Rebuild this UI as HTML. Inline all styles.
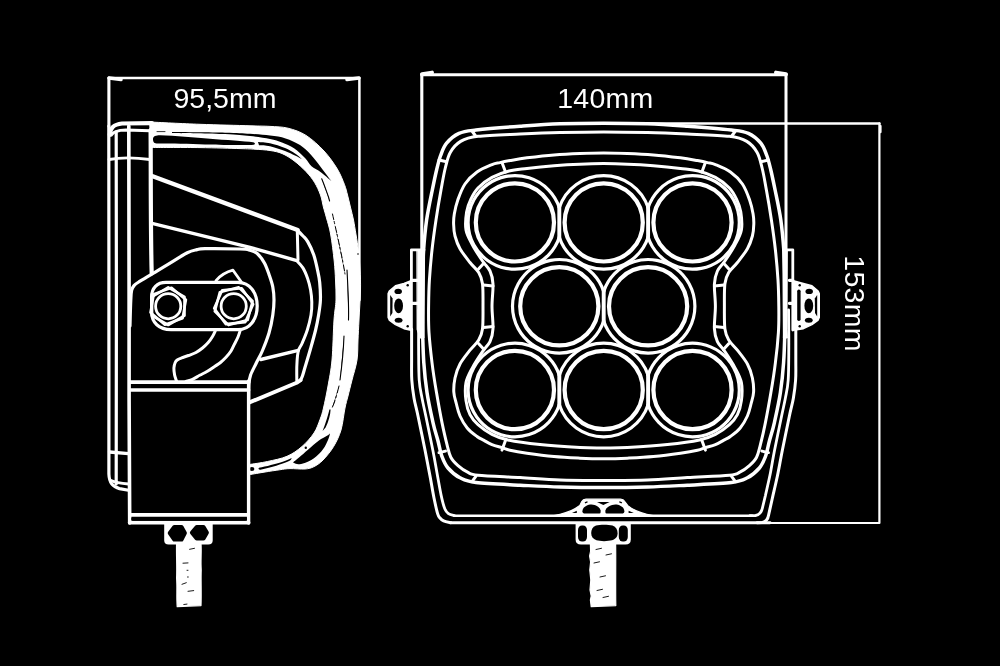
<!DOCTYPE html>
<html><head><meta charset="utf-8"><title>Dimensions</title>
<style>
html,body{margin:0;padding:0;background:#000;}
body{width:1000px;height:666px;overflow:hidden;position:relative;font-family:"Liberation Sans",sans-serif;}
svg{position:absolute;left:0;top:0;display:block;will-change:transform;transform:translateZ(0)}
svg path,svg circle,svg rect,svg line,svg polygon{fill:none;stroke:#fff;stroke-linecap:round;stroke-linejoin:round}
svg .f{fill:#fff;stroke:#fff}
svg .k{fill:#000;stroke:none}
svg .kk{fill:#000;stroke:#000}
svg text{fill:#fff;stroke:none;font-family:"Liberation Sans",sans-serif;}
</style></head><body>
<svg width="1000" height="666" viewBox="0 0 1000 666">
<rect class="k" x="0" y="0" width="1000" height="666"/>
<g id="side-view">
<path d="M108.9,126 V78.1" stroke-width="3.1" />
<path d="M108.9,78.1 H359.4 V300" stroke-width="2.5" />
<path d="M109,78 l12,1.5" stroke-width="3.5" />
<path d="M359,78 l-12,1.5" stroke-width="3.5" />
<text x="173.5" y="107.9" font-size="28.5">95,5mm</text>
<path class="f" d="M150.0,122.0 C158.3,122.4 183.3,123.7 200.0,124.3 C216.7,124.9 238.3,125.4 250.0,125.8 C261.7,126.2 263.7,126.0 270.0,126.4 C276.3,126.8 282.0,126.7 288.0,128.2 C294.0,129.7 300.0,131.6 306.0,135.4 C312.0,139.2 318.8,145.4 324.0,151.0 C329.2,156.6 333.9,163.4 337.3,169.0 C340.7,174.6 342.8,180.4 344.5,184.7 C346.2,189.0 346.5,191.3 347.5,195.0 C348.5,198.7 349.4,202.8 350.4,207.0 C351.4,211.2 352.6,215.5 353.5,220.0 C354.4,224.5 355.0,228.7 355.9,234.0 C356.8,239.3 357.9,246.0 358.6,252.0 C359.3,258.0 359.7,263.7 360.0,270.0 C360.3,276.3 360.7,281.7 360.5,290.0 C360.3,298.3 359.4,311.7 359.0,320.0 C358.6,328.3 358.3,333.3 358.0,340.0 C357.7,346.7 358.0,353.3 357.0,360.0 C356.0,366.7 353.5,374.0 352.0,380.0 C350.5,386.0 349.2,391.3 348.0,396.0 C346.8,400.7 346.2,402.3 345.0,408.0 C343.8,413.7 342.9,423.6 341.0,430.0 C339.1,436.4 336.6,441.5 333.6,446.5 C330.6,451.5 326.3,456.6 323.0,460.0 C319.7,463.4 317.0,465.1 314.0,466.6 C311.0,468.1 309.0,468.7 305.0,469.0 C301.0,469.3 294.2,468.5 290.0,468.6 C285.8,468.7 283.7,469.2 279.5,469.8 C275.3,470.4 270.0,471.2 265.0,472.0 C260.0,472.8 252.1,474.2 249.5,474.6 L249.5,464.5 C252.5,464.0 261.2,462.9 267.5,461.5 C273.8,460.1 281.2,458.8 287.0,456.3 C292.8,453.8 297.5,450.4 302.0,446.5 C306.5,442.6 311.0,437.5 314.0,433.0 C317.0,428.5 318.4,423.7 320.0,419.5 C321.6,415.3 322.2,413.6 323.5,408.0 C324.8,402.4 326.6,394.0 328.0,386.0 C329.4,378.0 331.0,371.0 332.0,360.0 C333.0,349.0 333.3,330.0 334.0,320.0 C334.7,310.0 335.8,306.7 336.0,300.0 C336.2,293.3 335.8,286.5 335.5,280.0 C335.2,273.5 335.0,268.7 334.2,261.0 C333.4,253.3 331.9,241.2 330.6,234.0 C329.3,226.8 327.7,222.5 326.5,218.0 C325.3,213.5 324.4,210.8 323.4,207.0 C322.4,203.2 322.0,199.1 320.5,195.0 C319.0,190.9 316.9,186.2 314.5,182.3 C312.1,178.4 309.4,175.1 306.0,171.5 C302.6,167.9 298.0,163.7 294.0,160.7 C290.0,157.7 286.0,155.2 282.0,153.5 C278.0,151.8 274.5,151.2 270.0,150.5 C265.5,149.8 260.0,149.5 255.0,149.2 C250.0,148.9 249.2,148.9 240.0,148.6 C230.8,148.3 214.7,147.8 200.0,147.6 C185.3,147.4 160.0,147.5 152.0,147.5 L150,130 Z" stroke-width="1"/>
<path class="k" d="M153,139 C153,136 156,135.2 160,135.2 C175,135.4 195,137.5 210,138.8 C225,140 245,141.2 253,142.3 C256,143 255.5,145 252,145 C235,145.2 215,145 205,144.6 C190,143.8 170,143.8 158,143.6 C154,143.5 153,142 153,139 Z"/>
<path class="kk" stroke-width="0.8" d="M157,131.6 h8"/>
<path class="k" d="M172.0,132.1 C180.8,132.2 212.0,132.4 225.0,132.7 C238.0,133.0 242.5,133.3 250.0,133.8 C257.5,134.3 264.1,134.8 270.0,135.6 C275.9,136.4 280.6,136.8 285.6,138.4 C290.6,140.0 295.8,142.3 300.0,145.0 C304.2,147.7 307.5,151.1 310.9,154.7 C314.3,158.3 317.7,163.1 320.5,166.7 C323.3,170.3 325.9,173.9 327.7,176.3 C329.5,178.7 330.7,180.2 331.3,181.0 L331.3,181.0 C329.5,179.5 323.8,174.4 320.5,172.0 C317.2,169.6 314.0,168.6 311.5,166.3 C309.0,164.1 308.4,161.5 305.5,158.5 C302.6,155.5 297.9,150.9 294.0,148.2 C290.1,145.5 286.0,143.9 282.0,142.4 C278.0,140.9 275.3,140.0 270.0,138.9 C264.7,137.8 257.5,136.8 250.0,136.0 C242.5,135.2 238.0,134.5 225.0,134.0 C212.0,133.5 180.8,133.1 172.0,132.9 Z"/>
<path class="k" d="M258.0,142.0 C260.0,142.2 265.5,142.3 270.0,143.3 C274.5,144.3 280.8,146.3 285.0,148.0 C289.2,149.7 292.1,151.6 295.0,153.5 C297.9,155.4 301.2,158.5 302.5,159.5 L302.5,159.5 C301.2,158.8 297.9,157.0 295.0,155.6 C292.1,154.2 289.2,152.6 285.0,151.0 C280.8,149.4 274.3,147.3 270.0,146.3 C265.7,145.3 260.8,145.4 259.0,145.2 Z"/>
<path class="kk" stroke-width="1.1" d="M321.7,178.7 C324,184 326,190 328.5,197 L329.6,201"/>
<path class="kk" stroke-width="1" stroke-dasharray="6 2 2 3" d="M332.5,214 C336,230 342,255 345,274"/>
<path class="kk" stroke-width="1.1" d="M347,270 C348,290 349,305 348.5,320"/>
<path class="kk" stroke-width="1.1" d="M344,336 C343.5,350 342,365 340,380"/>
<path class="kk" stroke-width="1" stroke-dasharray="7 3 2 3" d="M339,386 C337,394 335,402 332,408"/>
<circle class="k" cx="358" cy="254" r="0.8"/>
<path class="k" d="M330.6,409.5 C330.4,415 328.6,421.5 325.6,427.5 L322.6,431 C324.6,426 327.4,418 329.4,409.5 Z"/>
<path class="k" d="M329.6,433.4 C329.2,433.8 329.2,434.4 327.4,435.6 C325.6,436.8 321.8,438.4 318.6,440.8 C315.4,443.2 311.3,447.0 308.0,449.8 C304.7,452.6 301.5,455.5 299.0,457.6 C296.5,459.7 294.0,461.6 293.0,462.4 L293.0,462.6 C293.7,462.8 295.3,463.8 297.0,464.0 C298.7,464.2 300.2,464.6 303.0,463.6 C305.8,462.7 310.7,460.7 314.0,458.3 C317.3,455.9 320.7,452.4 323.0,449.3 C325.3,446.2 326.9,442.5 328.0,440.0 C329.1,437.5 329.5,435.4 329.8,434.5 Z"/>
<circle class="k" cx="305.8" cy="447.8" r="1.2"/>
<path class="k" d="M259,467.8 C266,466.4 276,464 282,462 C286,460.6 289,459.4 291.6,458 C291.6,459.6 290.4,460.6 288,461.6 C282,464.2 272,467.4 260.4,469.8 C258.6,470 258,468.2 259,467.8 Z"/>
<ellipse class="k" cx="251.9" cy="469.1" rx="2.5" ry="2"/>
<path d="M109.8,135 C110,128 113.5,124.4 122,123.5 L152,123.2" stroke-width="4.2" />
<path d="M111.5,135 C113,131.4 118,130.2 126,130 L150,130.8" stroke-width="3" />
<path d="M108.8,126 L108.9,260 L108.9,474 C109.2,483 112.5,487 119.5,488.6 L128.5,490.3" stroke-width="3.2" />
<path d="M116.2,132 L116.4,300 L116.2,484" stroke-width="3.2" />
<path d="M128.8,126 L129.1,300 L129.1,400 L129.7,523" stroke-width="3.6" />
<path d="M150.6,130 C150.9,170 150.5,230 151.7,273.5" stroke-width="4.2" />
<path d="M109,159.5 C120,157.5 135,157.5 150,159.5" stroke-width="2.8" />
<path d="M109.5,452 L128.5,453.6" stroke-width="3.4" />
<path d="M111,480.5 C116,482.8 122,483.4 128.5,484" stroke-width="3" />
<path d="M152,176 L297.6,230" stroke-width="4.4" />
<path d="M152,223.4 L250,247.4 L296,260.3" stroke-width="3.4" />
<path d="M297.3,231 L298,260" stroke-width="3" />
<path d="M297.6,230.5 C298.5,231.4 301.3,234.2 303.0,236.0 C304.7,237.8 305.9,238.5 307.7,241.6 C309.5,244.7 312.1,250.1 313.7,254.7 C315.3,259.3 316.3,264.4 317.3,269.0 C318.3,273.6 319.2,277.1 319.7,282.3 C320.2,287.5 320.6,294.6 320.4,300.0 C320.2,305.4 319.4,310.0 318.6,315.0 C317.8,320.0 317.0,324.2 315.6,330.0 C314.2,335.8 312.0,343.5 310.3,349.5 C308.6,355.5 306.7,361.7 305.4,366.0 C304.1,370.3 303.4,373.1 302.6,375.5 C301.8,377.9 300.8,379.6 300.4,380.4" stroke-width="3.2" />
<path d="M296.5,260.5 C297.6,261.7 301.0,264.9 302.9,267.9 C304.8,270.9 306.4,275.0 307.7,278.7 C309.0,282.4 309.9,286.1 310.6,290.0 C311.3,293.9 311.7,297.8 311.8,302.0 C311.9,306.2 311.8,310.3 311.0,315.0 C310.2,319.7 308.8,325.2 307.3,330.0 C305.8,334.8 303.5,340.0 302.0,343.5 C300.5,347.0 299.2,347.5 298.3,351.0 C297.4,354.5 297.1,359.6 296.9,364.5 C296.6,369.4 296.8,377.8 296.8,380.5" stroke-width="3" />
<path d="M260.8,359.5 L298.3,350.4" stroke-width="3.4" />
<path d="M249.5,402.4 L296.6,382.8 L300.6,380.2" stroke-width="3.9" />
<path d="M130.0,326.0 C130.1,321.7 130.5,305.9 130.8,300.0 C131.1,294.1 131.1,292.9 131.6,290.5 C132.1,288.1 132.7,287.1 134.0,285.6 C135.3,284.1 136.0,283.7 139.2,281.7 C142.4,279.7 148.2,276.3 153.0,273.4 C157.8,270.5 162.3,267.7 168.0,264.3 C173.7,260.9 182.5,255.2 187.3,252.8 C192.1,250.4 194.1,250.3 197.0,249.6 C199.9,248.9 197.8,248.8 205.0,248.7 C212.2,248.6 232.5,248.8 240.0,249.0 C247.5,249.2 247.1,249.4 250.0,250.2 C252.9,250.9 254.8,251.4 257.2,253.5 C259.6,255.6 262.4,259.4 264.4,263.0 C266.4,266.6 267.8,271.0 269.2,275.0 C270.6,279.0 272.0,282.8 272.8,287.0 C273.6,291.2 274.0,295.3 274.0,300.0 C274.0,304.7 273.6,309.5 272.8,315.0 C272.0,320.5 270.8,327.0 269.0,333.0 C267.2,339.0 264.4,346.0 262.3,351.0 C260.2,356.0 258.2,359.0 256.3,363.0 C254.4,367.0 251.8,371.5 250.6,375.0 C249.4,378.5 249.2,379.8 248.9,384.0 C248.6,388.2 248.7,397.3 248.6,400.0" stroke-width="3.2" />
<path d="M166,282.4 H238 C250,282.4 257.2,293 257.2,306 C257.2,319 250,329.6 238,329.6 H171 C159,329.6 151.6,322.5 151.6,312 V297 C151.6,288 157,282.4 166,282.4 Z" stroke-width="3.2" />
<path d="M184.5,315.6 L168.2,325.0 L151.9,315.6 L151.9,296.8 L168.2,287.4 L184.5,296.8Z" stroke-width="2.6" />
<path d="M182.6,318.3 L164.9,324.7 L150.5,312.6 L153.8,294.1 L171.5,287.7 L185.9,299.8Z" stroke-width="2.6" />
<circle cx="168.2" cy="306.2" r="12.6" stroke-width="2.8"/>
<path d="M247.6,320.1 L228.6,325.1 L214.8,311.3 L219.8,292.3 L238.8,287.3 L252.6,301.1Z" stroke-width="2.6" />
<path d="M245.2,322.1 L225.7,324.1 L214.2,308.2 L222.2,290.3 L241.7,288.3 L253.2,304.2Z" stroke-width="2.6" />
<circle cx="233.7" cy="306.2" r="12.6" stroke-width="2.8"/>
<path d="M216,280.6 C220,276 226,272 233,270.2 L241,281.5" stroke-width="2.8" />
<path d="M215.3,330.8 C214.8,331.8 213.7,334.5 212.5,336.5 C211.3,338.5 209.7,340.9 208.0,342.8 C206.3,344.7 204.5,346.4 202.5,348.0 C200.5,349.6 198.3,351.2 196.0,352.5 C193.7,353.8 190.9,354.6 188.5,355.5 C186.1,356.4 183.4,357.2 181.6,357.9 C179.8,358.6 178.7,359.0 177.6,359.8 C176.5,360.6 175.8,361.1 175.2,362.5 C174.6,363.9 174.0,365.9 173.9,368.0 C173.8,370.1 174.2,372.8 174.6,375.0 C175.0,377.2 176.2,380.0 176.5,381.0" stroke-width="3" />
<path d="M240.5,329.6 C240.1,330.8 239.0,334.6 238.0,337.0 C237.0,339.4 235.7,341.7 234.5,344.0 C233.3,346.3 232.4,348.8 231.0,351.0 C229.6,353.2 227.8,355.4 226.0,357.3 C224.2,359.2 222.5,360.9 220.5,362.5 C218.5,364.1 216.2,365.4 214.0,366.9 C211.8,368.4 209.4,370.1 207.0,371.5 C204.6,372.9 202.1,374.0 199.7,375.3 C197.3,376.6 194.8,378.3 192.5,379.3 C190.2,380.3 187.1,381.1 186.0,381.5" stroke-width="3" />
<path d="M130,382.1 H248.6" stroke-width="3.7" />
<path d="M130,390 H248.6" stroke-width="3.5" />
<path d="M248.6,381 V523" stroke-width="3.4" />
<path d="M130,514.8 H248" stroke-width="3.7" />
<path d="M129.7,522.7 H248.6" stroke-width="3.7" />
<rect x="131.2" y="517.1" width="115.8" height="3.6" rx="1.8" class="k"/>
<path class="f" stroke-width="2" d="M165.2,524 H211.7 V540.6 Q211.7,543.6 208.2,543.6 H168.7 Q165.2,543.6 165.2,540.6 Z"/>
<path class="kk" stroke-width="4.4" d="M174.4,527.2 L181.4,527.2 L184.7,533 L181.4,539.4 L174.4,539.4 L169.9,533 Z"/>
<path class="kk" stroke-width="4.4" d="M196.8,527.2 L203.4,527.2 L206.7,532.6 L203.4,538.4 L196.8,538.4 L192.1,532.6 Z"/>
<path class="f" stroke-width="1.2" d="M176.6,543.5 H201 C201.6,552 200.6,560 201.2,570 C200.8,580 201.5,592 201,605.6 L177.2,606.6 C176.4,596 177.4,588 176.6,578 C177.2,566 176.2,556 176.6,543.5 Z"/>
<path class="kk" stroke-width="0.9" d="M189.6,549.3 l4.9,-1"/>
<path class="kk" stroke-width="0.9" d="M183,563.2 l5,-0.3"/>
<path class="kk" stroke-width="0.9" d="M187,570.3 l1,0"/>
<path class="kk" stroke-width="0.9" d="M187.5,577 l0.8,0"/>
<path class="kk" stroke-width="0.9" d="M182,584.3 l4.3,-1.6"/>
<path class="kk" stroke-width="0.9" d="M188,591.3 l5.7,-0.7"/>
<path class="kk" stroke-width="0.9" d="M183.8,604.5 l3.2,-0.4"/>
</g>
<g id="front-view">
<path d="M421.8,250 V74.8" stroke-width="3.1" />
<path d="M421.8,74.8 H786" stroke-width="2.9" />
<path d="M786,74.8 V250" stroke-width="3" />
<path d="M786,250 V306" stroke-width="2.2" />
<path d="M422,74.2 l10,-1.6" stroke-width="4" />
<path d="M786,74.2 l-10,-1.6" stroke-width="4" />
<path d="M640,123.4 H879.4" stroke-width="2.5" />
<path d="M879.4,123.4 V523 H770" stroke-width="2.2" />
<path d="M880.3,126 v6" stroke-width="2.6" />
<text x="557.3" y="107.9" font-size="28.5" letter-spacing="0.2">140mm</text>
<text transform="translate(845.3,255.3) rotate(90)" font-size="28.5" letter-spacing="0.3">153mm</text>
<path d="M603.7,123.2 C589.1,123.2 574.0,123.3 560.0,123.8 C546.0,124.3 534.0,125.2 520.0,126.2 C506.0,127.2 486.2,128.8 476.0,130.0 C465.8,131.2 463.9,131.2 459.0,133.4 C454.1,135.6 449.7,139.5 446.6,143.2 C443.5,146.9 442.3,151.0 440.6,155.5 C438.9,160.0 438.0,164.2 436.6,170.0 C435.2,175.8 434.0,181.7 432.3,190.0 C430.6,198.3 428.1,210.0 426.6,220.0 C425.2,230.0 424.3,240.0 423.6,250.0 C422.9,260.0 422.7,270.6 422.5,280.0 C422.3,289.4 422.3,297.5 422.3,306.3 C422.3,315.1 422.4,323.2 422.6,332.6 C422.9,342.0 423.1,352.6 423.8,362.6 C424.5,372.6 425.5,382.6 427.0,392.6 C428.5,402.6 431.2,414.5 433.0,422.6 C434.8,430.7 436.5,435.3 438.0,441.0 C439.5,446.7 440.3,452.1 442.0,456.6 C443.7,461.1 445.0,464.5 448.0,468.0 C451.0,471.5 455.3,475.4 460.0,477.8 C464.7,480.2 466.0,481.4 476.0,482.6 C486.0,483.8 506.0,484.5 520.0,485.2 C534.0,485.9 546.0,486.6 560.0,487.0 C574.0,487.4 589.1,487.6 603.7,487.6 C618.3,487.6 633.5,487.4 647.4,487.0 C661.4,486.6 673.4,485.9 687.4,485.2 C701.4,484.5 721.4,483.8 731.4,482.6 C741.4,481.4 742.7,480.2 747.4,477.8 C752.1,475.4 756.4,471.5 759.4,468.0 C762.4,464.5 763.7,461.1 765.4,456.6 C767.1,452.1 767.9,446.7 769.4,441.0 C770.9,435.3 772.6,430.7 774.4,422.6 C776.2,414.5 778.9,402.6 780.4,392.6 C781.9,382.6 782.9,372.6 783.6,362.6 C784.3,352.6 784.6,342.0 784.8,332.6 C785.1,323.2 785.1,315.1 785.1,306.3 C785.1,297.5 785.1,289.4 784.9,280.0 C784.7,270.6 784.5,260.0 783.8,250.0 C783.1,240.0 782.2,230.0 780.8,220.0 C779.4,210.0 776.8,198.3 775.1,190.0 C773.4,181.7 772.2,175.8 770.8,170.0 C769.4,164.2 768.5,160.0 766.8,155.5 C765.1,151.0 763.9,146.9 760.8,143.2 C757.7,139.5 753.3,135.6 748.4,133.4 C743.5,131.2 741.6,131.2 731.4,130.0 C721.2,128.8 701.4,127.2 687.4,126.2 C673.4,125.2 661.4,124.3 647.4,123.8 C633.5,123.3 618.3,123.2 603.7,123.2Z" stroke-width="3.5" />
<path d="M603.7,132.0 C589.1,132.0 574.0,132.3 560.0,132.6 C546.0,132.9 533.7,133.4 520.0,134.0 C506.3,134.6 487.9,135.1 478.0,136.3 C468.1,137.5 465.2,138.7 460.6,141.4 C456.0,144.1 452.9,147.9 450.4,152.3 C447.8,156.7 446.9,161.7 445.3,168.0 C443.7,174.3 442.6,181.3 441.0,190.0 C439.4,198.7 437.5,210.0 436.0,220.0 C434.5,230.0 433.1,240.0 432.0,250.0 C430.9,260.0 430.0,270.6 429.4,280.0 C428.8,289.4 428.7,297.5 428.6,306.3 C428.5,315.1 428.4,323.2 429.0,332.6 C429.6,342.0 430.8,352.6 432.0,362.6 C433.2,372.6 434.8,382.6 436.5,392.6 C438.2,402.6 440.2,413.9 442.0,422.6 C443.8,431.3 445.5,438.8 447.0,444.6 C448.5,450.4 449.0,453.7 450.8,457.2 C452.6,460.7 455.2,463.1 458.0,465.6 C460.8,468.1 464.3,470.6 467.6,472.2 C470.9,473.8 469.3,474.3 478.0,475.2 C486.7,476.1 506.3,476.8 520.0,477.6 C533.7,478.4 546.0,479.5 560.0,480.0 C574.0,480.5 589.1,480.4 603.7,480.4 C618.3,480.4 633.5,480.5 647.4,480.0 C661.4,479.5 673.7,478.4 687.4,477.6 C701.1,476.8 720.7,476.1 729.4,475.2 C738.1,474.3 736.5,473.8 739.8,472.2 C743.1,470.6 746.6,468.1 749.4,465.6 C752.2,463.1 754.8,460.7 756.6,457.2 C758.4,453.7 758.9,450.4 760.4,444.6 C761.9,438.8 763.7,431.3 765.4,422.6 C767.2,413.9 769.2,402.6 770.9,392.6 C772.6,382.6 774.2,372.6 775.4,362.6 C776.7,352.6 777.8,342.0 778.4,332.6 C779.0,323.2 778.9,315.1 778.8,306.3 C778.7,297.5 778.6,289.4 778.0,280.0 C777.4,270.6 776.5,260.0 775.4,250.0 C774.3,240.0 772.9,230.0 771.4,220.0 C769.9,210.0 768.0,198.7 766.4,190.0 C764.9,181.3 763.7,174.3 762.1,168.0 C760.5,161.7 759.6,156.7 757.0,152.3 C754.5,147.9 751.4,144.1 746.8,141.4 C742.2,138.7 739.3,137.5 729.4,136.3 C719.5,135.1 701.1,134.6 687.4,134.0 C673.7,133.4 661.4,132.9 647.4,132.6 C633.5,132.3 618.3,132.0 603.7,132.0Z" stroke-width="3" />
<path d="M472.0,131.0 L476.0,136.5" stroke-width="3" />
<path d="M735.4,131.0 L731.4,136.5" stroke-width="3" />
<path d="M472.0,481.6 L476.0,476.1" stroke-width="3" />
<path d="M735.4,481.6 L731.4,476.1" stroke-width="3" />
<path d="M439.0,160.0 L445.5,161.5" stroke-width="3" />
<path d="M768.4,160.0 L761.9,161.5" stroke-width="3" />
<path d="M439.0,452.6 L445.5,451.1" stroke-width="3" />
<path d="M768.4,452.6 L761.9,451.1" stroke-width="3" />
<path d="M603.7,153.0 C595.8,153.0 588.3,153.2 580.0,153.5 C571.7,153.8 562.8,154.2 554.0,154.9 C545.2,155.6 534.3,156.9 527.0,157.8 C519.7,158.8 514.5,159.8 510.0,160.6 C505.5,161.4 503.0,161.9 500.0,162.6 C497.0,163.3 495.8,163.0 492.0,164.6 C488.2,166.2 481.5,168.8 477.0,172.0 C472.5,175.2 468.2,179.3 465.0,184.0 C461.8,188.7 459.6,195.0 457.8,200.0 C456.0,205.0 455.0,210.0 454.3,214.0 C453.6,218.0 453.5,220.3 453.6,224.0 C453.7,227.7 453.9,231.9 455.0,236.0 C456.1,240.1 457.5,244.3 460.0,248.7 C462.5,253.1 466.9,258.5 470.0,262.5 C473.1,266.5 476.6,269.0 478.7,272.5 C480.8,276.0 481.8,278.1 482.5,283.7 C483.2,289.3 483.0,298.8 483.0,306.3 C483.0,313.8 483.2,323.3 482.5,328.9 C481.8,334.5 480.8,336.4 478.7,340.0 C476.6,343.6 473.1,346.2 470.0,350.2 C466.9,354.2 462.5,359.4 460.0,364.0 C457.5,368.6 456.0,373.3 455.0,378.0 C454.0,382.7 453.6,387.7 453.8,392.0 C454.0,396.3 455.4,400.0 456.4,404.0 C457.4,408.0 458.2,412.0 460.0,416.0 C461.8,420.0 464.4,424.6 467.2,428.0 C470.0,431.4 474.2,434.4 477.0,436.5 C479.8,438.6 481.5,439.0 484.0,440.4 C486.5,441.8 489.0,443.4 492.0,444.6 C495.0,445.8 499.0,446.7 502.0,447.6 C505.0,448.5 505.8,449.3 510.0,450.2 C514.2,451.1 519.7,452.1 527.0,453.2 C534.3,454.3 545.2,455.8 554.0,456.6 C562.8,457.4 571.7,457.8 580.0,458.2 C588.3,458.6 595.8,458.8 603.7,458.8 C611.6,458.8 619.1,458.6 627.4,458.2 C635.7,457.8 644.6,457.4 653.4,456.6 C662.2,455.8 673.1,454.3 680.4,453.2 C687.7,452.1 693.2,451.1 697.4,450.2 C701.6,449.3 702.4,448.5 705.4,447.6 C708.4,446.7 712.4,445.8 715.4,444.6 C718.4,443.4 720.9,441.8 723.4,440.4 C725.9,439.0 727.6,438.6 730.4,436.5 C733.2,434.4 737.4,431.4 740.2,428.0 C743.0,424.6 745.6,420.0 747.4,416.0 C749.2,412.0 750.0,408.0 751.0,404.0 C752.0,400.0 753.4,396.3 753.6,392.0 C753.8,387.7 753.4,382.7 752.4,378.0 C751.4,373.3 749.9,368.6 747.4,364.0 C744.9,359.4 740.5,354.2 737.4,350.2 C734.3,346.2 730.8,343.6 728.7,340.0 C726.6,336.4 725.6,334.5 724.9,328.9 C724.2,323.3 724.4,313.8 724.4,306.3 C724.4,298.8 724.2,289.3 724.9,283.7 C725.6,278.1 726.6,276.0 728.7,272.5 C730.8,269.0 734.3,266.5 737.4,262.5 C740.5,258.5 744.9,253.1 747.4,248.7 C749.9,244.3 751.3,240.1 752.4,236.0 C753.5,231.9 753.7,227.7 753.8,224.0 C753.9,220.3 753.8,218.0 753.1,214.0 C752.4,210.0 751.4,205.0 749.6,200.0 C747.8,195.0 745.6,188.7 742.4,184.0 C739.2,179.3 734.9,175.2 730.4,172.0 C725.9,168.8 719.2,166.2 715.4,164.6 C711.6,163.0 710.4,163.3 707.4,162.6 C704.4,161.9 701.9,161.4 697.4,160.6 C692.9,159.8 687.7,158.8 680.4,157.8 C673.1,156.9 662.2,155.6 653.4,154.9 C644.6,154.2 635.7,153.8 627.4,153.5 C619.1,153.2 611.6,153.0 603.7,153.0Z" stroke-width="3" />
<path d="M603.7,163.6 C595.8,163.6 588.3,163.8 580.0,164.2 C571.7,164.5 562.8,165.0 554.0,165.7 C545.2,166.4 534.5,167.5 527.0,168.4 C519.5,169.3 514.8,169.5 509.0,171.0 C503.2,172.5 497.2,174.6 492.0,177.4 C486.8,180.2 481.5,184.4 478.0,188.0 C474.5,191.6 472.9,195.0 471.0,199.0 C469.1,203.0 467.4,206.8 466.6,212.0 C465.8,217.2 465.0,224.5 466.0,230.0 C467.0,235.5 469.8,239.8 472.5,245.0 C475.2,250.2 479.6,256.7 482.5,261.0 C485.4,265.3 488.2,267.2 490.0,271.0 C491.8,274.8 492.7,278.1 493.0,284.0 C493.3,289.9 492.0,298.9 492.0,306.3 C492.0,313.7 493.3,322.7 493.0,328.6 C492.7,334.5 491.8,337.8 490.0,341.6 C488.2,345.4 485.4,347.3 482.5,351.6 C479.6,355.9 475.2,362.4 472.5,367.6 C469.8,372.8 467.1,377.1 466.0,382.6 C464.9,388.1 465.3,395.3 466.0,400.6 C466.7,405.9 468.0,410.6 470.0,414.6 C472.0,418.6 474.3,421.3 478.0,424.6 C481.7,427.9 487.0,431.8 492.0,434.4 C497.0,437.0 500.0,438.3 508.0,440.0 C516.0,441.7 528.0,443.3 540.0,444.6 C552.0,445.9 569.4,447.0 580.0,447.6 C590.6,448.2 595.8,448.0 603.7,448.0 C611.6,448.0 616.8,448.2 627.4,447.6 C638.0,447.0 655.4,445.9 667.4,444.6 C679.4,443.3 691.4,441.7 699.4,440.0 C707.4,438.3 710.4,437.0 715.4,434.4 C720.4,431.8 725.7,427.9 729.4,424.6 C733.1,421.3 735.4,418.6 737.4,414.6 C739.4,410.6 740.7,405.9 741.4,400.6 C742.1,395.3 742.5,388.1 741.4,382.6 C740.3,377.1 737.7,372.8 734.9,367.6 C732.2,362.4 727.8,355.9 724.9,351.6 C722.0,347.3 719.2,345.4 717.4,341.6 C715.7,337.8 714.7,334.5 714.4,328.6 C714.1,322.7 715.4,313.7 715.4,306.3 C715.4,298.9 714.1,289.9 714.4,284.0 C714.7,278.1 715.7,274.8 717.4,271.0 C719.2,267.2 722.0,265.3 724.9,261.0 C727.8,256.7 732.2,250.2 734.9,245.0 C737.7,239.8 740.4,235.5 741.4,230.0 C742.4,224.5 741.6,217.2 740.8,212.0 C740.0,206.8 738.3,203.0 736.4,199.0 C734.5,195.0 732.9,191.6 729.4,188.0 C725.9,184.4 720.6,180.2 715.4,177.4 C710.2,174.6 704.2,172.5 698.4,171.0 C692.6,169.5 687.9,169.3 680.4,168.4 C672.9,167.5 662.2,166.4 653.4,165.7 C644.6,165.0 635.7,164.5 627.4,164.2 C619.1,163.8 611.6,163.6 603.7,163.6Z" stroke-width="3" />
<path d="M502.0,162.5 L505.5,172.0" stroke-width="3" />
<path d="M705.4,162.5 L701.9,172.0" stroke-width="3" />
<path d="M502.0,450.1 L505.5,440.6" stroke-width="3" />
<path d="M705.4,450.1 L701.9,440.6" stroke-width="3" />
<path d="M478.5,269.0 L484.0,263.0" stroke-width="3" />
<path d="M728.9,269.0 L723.4,263.0" stroke-width="3" />
<path d="M478.5,343.6 L484.0,349.6" stroke-width="3" />
<path d="M728.9,343.6 L723.4,349.6" stroke-width="3" />
<path d="M483.5,285.0 L493.0,286.0" stroke-width="3" />
<path d="M723.9,285.0 L714.4,286.0" stroke-width="3" />
<path d="M483.5,327.6 L493.0,326.6" stroke-width="3" />
<path d="M723.9,327.6 L714.4,326.6" stroke-width="3" />
<path d="M559.30,237.19 A46.8,46.8 0 1 1 559.30,207.61" stroke-width="3.2" />
<path d="M648.10,237.19 A46.8,46.8 0 0 1 559.30,237.19 M559.30,207.61 A46.8,46.8 0 0 1 648.10,207.61" stroke-width="3.2" />
<path d="M648.10,207.61 A46.8,46.8 0 1 1 648.10,237.19" stroke-width="3.2" />
<path d="M603.70,321.09 A46.8,46.8 0 1 1 603.70,291.51" stroke-width="3.2" />
<path d="M603.70,291.51 A46.8,46.8 0 1 1 603.70,321.09" stroke-width="3.2" />
<path d="M559.30,404.79 A46.8,46.8 0 1 1 559.30,375.21" stroke-width="3.2" />
<path d="M648.10,404.79 A46.8,46.8 0 0 1 559.30,404.79 M559.30,375.21 A46.8,46.8 0 0 1 648.10,375.21" stroke-width="3.2" />
<path d="M648.10,375.21 A46.8,46.8 0 1 1 648.10,404.79" stroke-width="3.2" />
<path d="M559.30,206.11 V238.69" stroke-width="3.9" />
<path d="M648.10,206.11 V238.69" stroke-width="3.9" />
<path d="M603.70,290.01 V322.59" stroke-width="3.9" />
<path d="M559.30,373.71 V406.29" stroke-width="3.9" />
<path d="M648.10,373.71 V406.29" stroke-width="3.9" />
<circle cx="514.9" cy="222.4" r="39.1" stroke-width="4.2"/>
<circle cx="603.7" cy="222.4" r="39.1" stroke-width="4.2"/>
<circle cx="692.5" cy="222.4" r="39.1" stroke-width="4.2"/>
<circle cx="559.3" cy="306.3" r="39.1" stroke-width="4.2"/>
<circle cx="648.1" cy="306.3" r="39.1" stroke-width="4.2"/>
<circle cx="514.9" cy="390.0" r="39.1" stroke-width="4.2"/>
<circle cx="603.7" cy="390.0" r="39.1" stroke-width="4.2"/>
<circle cx="692.5" cy="390.0" r="39.1" stroke-width="4.2"/>
<path d="M411.6,329.0 C411.6,331.7 411.6,339.5 411.6,345.0 C411.6,350.5 411.6,356.2 411.6,362.0 C411.6,367.8 411.4,374.0 411.8,380.0 C412.2,386.0 413.0,392.0 414.0,398.0 C415.0,404.0 416.2,407.3 418.0,416.0 C419.8,424.7 423.0,440.0 425.0,450.0 C427.0,460.0 428.5,468.0 430.0,476.0 C431.5,484.0 432.7,491.7 434.0,498.0 C435.3,504.3 436.6,510.3 437.6,513.6 C438.6,516.9 439.0,516.8 440.0,518.0 C441.0,519.2 441.8,520.0 443.6,520.8 C445.4,521.6 449.6,522.4 450.8,522.7" stroke-width="3" />
<path d="M418.8,310.0 C418.8,316.2 418.5,335.8 418.6,347.5 C418.7,359.2 418.6,371.6 419.2,380.0 C419.8,388.4 420.9,392.0 422.0,398.0 C423.1,404.0 424.0,407.3 425.8,416.0 C427.6,424.7 430.9,440.5 432.8,450.0 C434.7,459.5 435.6,465.4 437.0,473.0 C438.4,480.6 439.9,489.6 441.2,495.6 C442.5,501.6 443.6,505.8 444.8,508.8 C446.0,511.8 446.8,512.5 448.4,513.6 C450.0,514.7 453.4,515.3 454.4,515.6" stroke-width="2.8" />
<path d="M795.8,329.0 C795.8,331.7 795.8,339.5 795.8,345.0 C795.8,350.5 795.8,356.2 795.8,362.0 C795.8,367.8 796.0,374.0 795.6,380.0 C795.2,386.0 794.4,392.0 793.4,398.0 C792.4,404.0 791.2,407.3 789.4,416.0 C787.6,424.7 784.4,440.0 782.4,450.0 C780.4,460.0 779.1,468.0 777.4,476.0 C775.7,484.0 773.2,494.3 772.4,498.0 L768.6,515 Q767.6,521.6 762,522.4 L757,522.7" stroke-width="3" />
<path d="M788.6,310.0 C788.6,316.2 788.9,335.8 788.8,347.5 C788.7,359.2 788.8,371.6 788.2,380.0 C787.6,388.4 786.5,392.0 785.4,398.0 C784.3,404.0 783.4,407.3 781.6,416.0 C779.8,424.7 776.5,440.5 774.6,450.0 C772.7,459.5 771.9,465.4 770.4,473.0 C768.9,480.6 766.2,491.8 765.4,495.6 L762.4,508 Q761,514.6 755.5,515.5 L750,515.7" stroke-width="2.8" />
<path d="M450.8,522.7 H770" stroke-width="2.9" />
<path d="M454.4,515.7 H752" stroke-width="2.6" />
<path class="f" stroke-width="1" d="M417.2,250 H424.6 L424,338 L420,338 L417.2,330 Z"/>
<path d="M424,249.8 H411.4 V330" stroke-width="2.8" />
<path d="M411.4,280.3 H418 M411.4,303.3 H418" stroke-width="3.2" />
<path class="f" stroke-width="1.6" d="M411,280.8 L404,283.6 L395.5,285.8 L389.3,291 L388.2,293.5 L388.2,317.5 L389.3,320 L395.5,324.6 L404,328.6 L411,330.2 Z"/>
<ellipse class="k" cx="398.2" cy="291.4" rx="3.7" ry="2.6"/>
<ellipse class="k" cx="398.6" cy="305.8" rx="4.4" ry="7.4"/>
<ellipse class="k" cx="398.6" cy="320.2" rx="3.9" ry="2.5"/>
<path class="k" d="M390.2,295 L392.6,298.5 L392.4,313 L390.2,316.5 Z"/>
<circle class="k" cx="407.7" cy="285.2" r="1.2"/>
<circle class="k" cx="407.7" cy="326.3" r="1.2"/>
<path class="f" stroke-width="1" d="M787.0000000000001,250 H782.8000000000001 L783.4000000000001,338 L787.4000000000001,338 L787.0000000000001,330 Z"/>
<path d="M783.4000000000001,249.8 H792.8000000000002 V330" stroke-width="2.8" />
<path d="M792.8000000000002,280.3 H789.4000000000001 M792.8000000000002,303.3 H789.4000000000001" stroke-width="3.2" />
<path class="f" stroke-width="1.6" d="M793.2,280.8 L803.4000000000001,283.6 L811.9000000000001,285.8 L818.1000000000001,291 L819.2,293.5 L819.2,317.5 L818.1000000000001,320 L811.9000000000001,324.6 L803.4000000000001,328.6 L793.2,330.2 Z"/>
<ellipse class="k" cx="809.2" cy="291.4" rx="3.7" ry="2.6"/>
<ellipse class="k" cx="808.8000000000001" cy="305.8" rx="4.4" ry="7.4"/>
<ellipse class="k" cx="808.8000000000001" cy="320.2" rx="3.9" ry="2.5"/>
<path class="k" d="M817.2,295 L814.8000000000001,298.5 L815.0000000000001,313 L817.2,316.5 Z"/>
<circle class="k" cx="799.7" cy="285.2" r="1.2"/>
<circle class="k" cx="799.7" cy="326.3" r="1.2"/>
<rect class="k" x="797.2" y="289.5" width="3.4" height="31.5" rx="1.7"/>
<path class="f" stroke-width="1.2" d="M554,515.5 C566,513.5 574,510 579.8,505.6 L581.8,501.5 Q583,499.2 586,499.2 H620.5 Q623.5,499.2 624.8,501.5 L627.8,505.6 C633,510 641,513.5 653,515.5 Z"/>
<path class="k" d="M582.6,510 C583.5,506.5 588,504.6 591.5,504.6 C596,504.8 600,507.5 600.6,510.5 L600.6,512.2 Q600.6,513.4 599.4,513.4 L584,513.4 Q582.4,513.2 582.4,511.6 Z"/>
<path class="k" d="M624.2,510 C623.3,506.5 618.8,504.6 615.3,504.6 C610.8,504.8 606,507.5 605.4,510.5 L605.4,512.2 Q605.4,513.4 606.6,513.4 L622.8,513.4 Q624.4,513.2 624.4,511.6 Z"/>
<path class="k" d="M597,502 L609.6,502 L603.3,505 Z"/>
<path class="k" d="M584.6,502.2 l2.6,-0.9 l0.6,0.9 l-2.4,1.4 Z M622.2,502.2 l-2.6,-0.9 l-0.6,0.9 l2.4,1.4 Z"/>
<path class="k" d="M572,512.9 L576.8,510.8 L576.8,512.9 Z M633.8,512.9 L628.6,510.8 L628.6,512.9 Z"/>
<path class="f" stroke-width="1.6" d="M576.4,524 H630 V539.5 Q630,543.8 625.5,543.8 H581 Q576.4,543.8 576.4,539.5 Z"/>
<rect class="k" x="578" y="525.4" width="9" height="16.2" rx="4" ry="4.5"/>
<rect class="k" x="618.8" y="525.4" width="9" height="16.2" rx="4" ry="4.5"/>
<path class="k" d="M596,525.6 C600,524.4 608,524.4 612.5,525.6 C616,527 617.6,530 617.6,533 C617.6,536.5 616,539 612,540.3 C608,541.4 600,541.4 596.5,540.3 C592.8,539 591.2,536.5 591.2,533 C591.2,530 592.5,527 596,525.6 Z"/>
<path class="f" stroke-width="1.2" d="M590.4,543.5 H615.6 C616,560 615.4,585 615.8,605.6 L591.2,606.6 L590.4,600 L591.2,596 L590,590 L590.8,580 L589.8,570 L590.6,562 L589.6,556 L590.6,551 Z"/>
<path class="kk" stroke-width="0.9" d="M596,549.5 l5.5,-1.2"/>
<path class="kk" stroke-width="0.9" d="M606,555 l5.5,-1.2"/>
<path class="kk" stroke-width="0.9" d="M594,563 l5.5,-1.2"/>
<path class="kk" stroke-width="0.9" d="M600,577 l5.5,-1.2"/>
<path class="kk" stroke-width="0.9" d="M597,590.5 l5.5,-1.2"/>
<path class="kk" stroke-width="0.9" d="M603,597.5 l5.5,-1.2"/>
</g>
</svg>
</body></html>
